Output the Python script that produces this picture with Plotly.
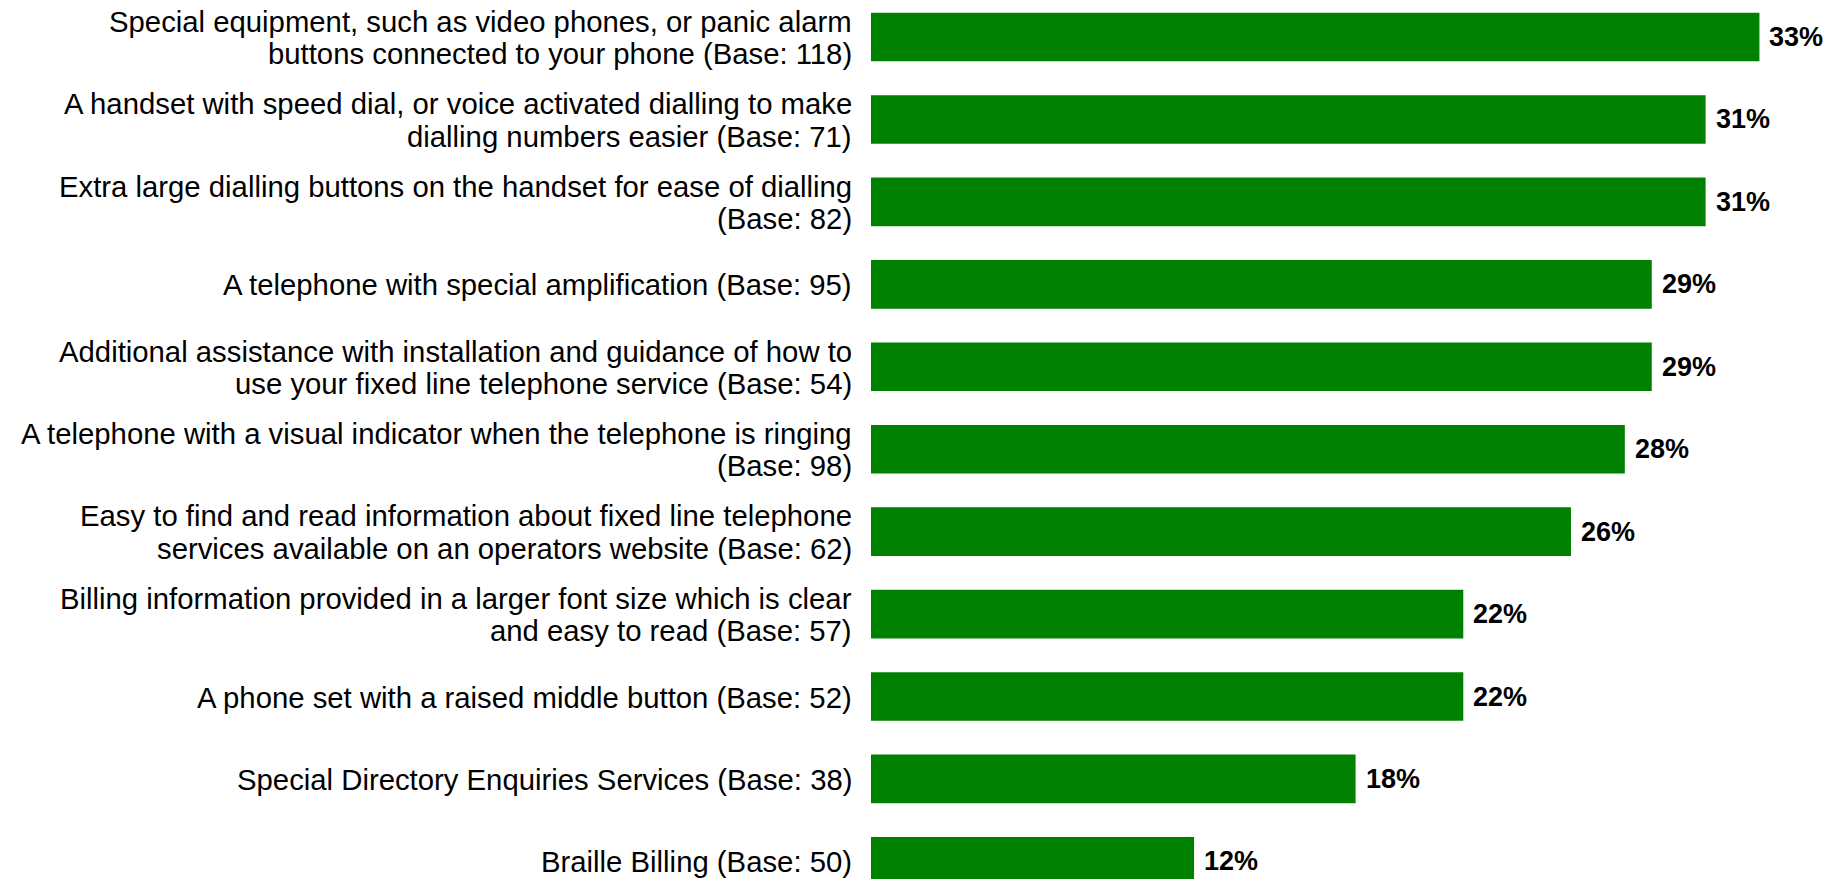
import plotly.graph_objects as go

# Survey items, top to bottom, with the share of respondents for each
categories = [
    "Special equipment, such as video phones, or panic alarm<br>buttons connected to your phone (Base: 118)",
    "A handset with speed dial, or voice activated dialling to make<br>dialling numbers easier (Base: 71)",
    "Extra large dialling buttons on the handset for ease of dialling<br>(Base: 82)",
    "A telephone with special amplification (Base: 95)",
    "Additional assistance with installation and guidance of how to<br>use your fixed line telephone service (Base: 54)",
    "A telephone with a visual indicator when the telephone is ringing<br>(Base: 98)",
    "Easy to find and read information about fixed line telephone<br>services available on an operators website (Base: 62)",
    "Billing information provided in a larger font size which is clear<br>and easy to read (Base: 57)",
    "A phone set with a raised middle button (Base: 52)",
    "Special Directory Enquiries Services (Base: 38)",
    "Braille Billing (Base: 50)",
]
values = [33, 31, 31, 29, 29, 28, 26, 22, 22, 18, 12]

FONT = "Liberation Sans, Arial, sans-serif"
GREEN = "#008000"

positions = list(range(len(categories)))

fig = go.Figure(
    go.Bar(
        x=values,
        y=positions,
        orientation="h",
        marker=dict(color=GREEN, line=dict(width=0)),
        width=0.59,
        hoverinfo="skip",
    )
)

annotations = []
# Category labels, one annotation per line for tight line spacing
LINE_GAP = 32.5
for pos, label in zip(positions, categories):
    lines = label.split("<br>")
    n = len(lines)
    for i, line in enumerate(lines):
        offset = ((n - 1) / 2 - i) * LINE_GAP - 0.5
        annotations.append(dict(
            x=0, xref="paper", y=pos, yref="y",
            xanchor="right", yanchor="middle",
            xshift=-17, yshift=offset,
            text=line, showarrow=False,
            font=dict(family=FONT, size=29.3, color="#000000"),
        ))

# Value labels just past the end of each bar
for pos, v in zip(positions, values):
    annotations.append(dict(
        x=v, xref="x", y=pos, yref="y",
        xanchor="left", yanchor="middle", xshift=8,
        text=f"<b>{v}%</b>", showarrow=False,
        font=dict(family=FONT, size=27, color="#000000"),
    ))

fig.update_layout(
    width=1848,
    height=879,
    margin=dict(l=871, r=0, t=0, b=0, pad=0),
    paper_bgcolor="white",
    plot_bgcolor="white",
    showlegend=False,
    annotations=annotations,
    xaxis=dict(range=[0, 36.29], visible=False, fixedrange=True),
    yaxis=dict(range=[10.214, -0.4495], visible=False, fixedrange=True),
)

fig.write_html("out.html", config={"displayModeBar": False})
